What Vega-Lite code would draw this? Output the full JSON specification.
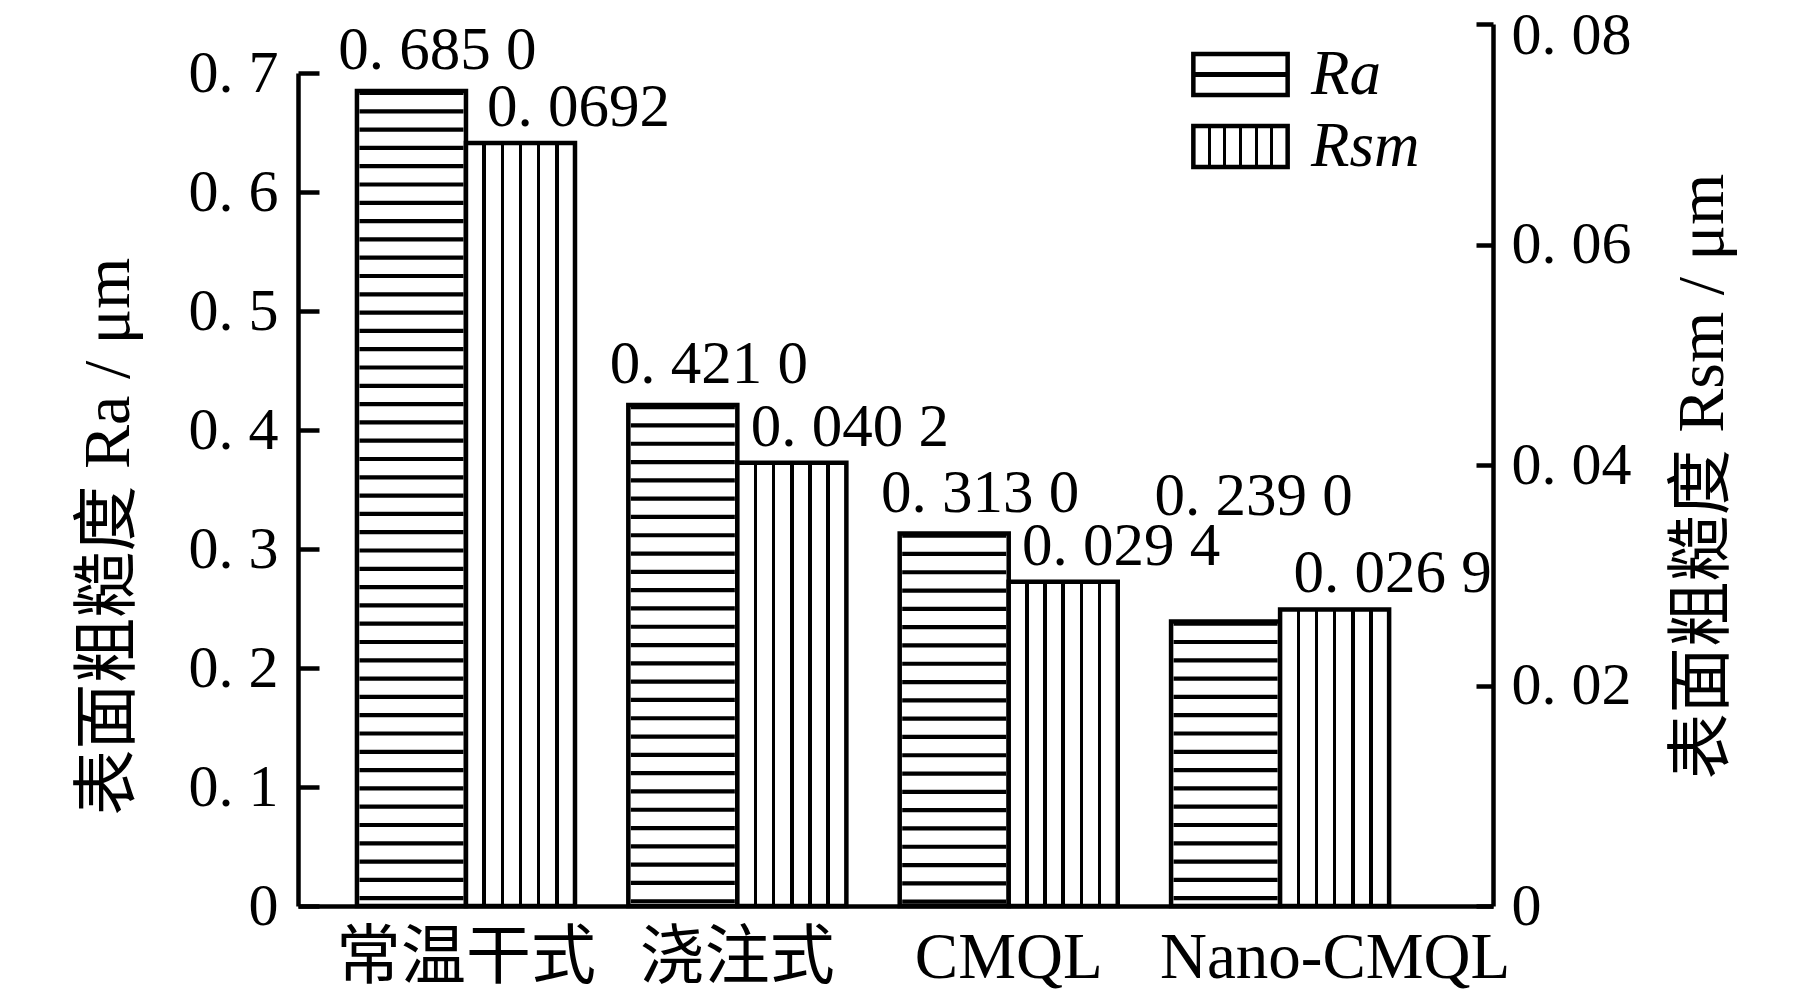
{
  "$schema": "https://vega.github.io/schema/vega-lite/v6.json",
  "autosize": "none",
  "width": 1195,
  "height": 882,
  "padding": {"left": 298, "top": 24, "right": 326, "bottom": 87},
  "background": "white",
  "config": {"view": {"stroke": null}, "font": "Liberation Serif, Noto Sans CJK SC"},
  "data": {"values": [
    {"method": "常温干式", "series": "Ra", "value": 0.685, "label": "0. 685 0"},
    {"method": "常温干式", "series": "Rsm", "value": 0.0692, "label": "0. 0692"},
    {"method": "浇注式", "series": "Ra", "value": 0.421, "label": "0. 421 0"},
    {"method": "浇注式", "series": "Rsm", "value": 0.0402, "label": "0. 040 2"},
    {"method": "CMQL", "series": "Ra", "value": 0.313, "label": "0. 313 0"},
    {"method": "CMQL", "series": "Rsm", "value": 0.0294, "label": "0. 029 4"},
    {"method": "Nano-CMQL", "series": "Ra", "value": 0.239, "label": "0. 239 0"},
    {"method": "Nano-CMQL", "series": "Rsm", "value": 0.0269, "label": "0. 026 9"}
  ]},
  "encoding": {
    "x": {
      "field": "method", "type": "nominal",
      "sort": ["常温干式", "浇注式", "CMQL", "Nano-CMQL"],
      "scale": {"paddingInner": 0.1965, "paddingOuter": 0.3, "align": 0.362},
      "axis": {
        "title": null, "labelAngle": 0, "ticks": false,
        "domainColor": "black", "domainWidth": 4.5,
        "labelFont": "Liberation Serif, Noto Sans CJK SC", "labelFontSize": 65, "labelColor": "black",
        "labelPadding": 20, "labelBaseline": "top", "labelLimit": 1000, "labelOverlap": false,
        "labelOffset": {"condition": {"test": "datum.value === 'Nano-CMQL'", "value": 55}, "value": 0}
      }
    },
    "xOffset": {"field": "series", "type": "nominal", "scale": {"domain": ["Ra", "Rsm"], "paddingInner": 0, "paddingOuter": 0}}
  },
  "layer": [
    {
      "transform": [{"filter": "datum.series === 'Ra'"}],
      "encoding": {
        "y": {
          "field": "value", "type": "quantitative",
          "scale": {"domain": [0, 0.7412], "nice": false, "zero": true},
          "axis": {
            "orient": "left", "values": [0, 0.1, 0.2, 0.3, 0.4, 0.5, 0.6, 0.7], "grid": false,
            "labelExpr": "datum.value === 0 ? '0' : replace(format(datum.value, '.1f'), '.', '. ')",
            "tickSize": -21, "tickWidth": 4.5, "tickColor": "black",
            "domainColor": "black", "domainWidth": 4.5, "domainDash": [833, 3000],
            "labelFont": "Liberation Serif", "labelFontSize": 60, "labelColor": "black", "labelPadding": 41,
            "title": "表面粗糙度 Ra / μm", "titleFont": "Liberation Serif, Noto Sans CJK SC", "titleFontSize": 66,
            "titleFontWeight": "normal", "titleColor": "black", "titleAngle": 270,
            "titleX": -190, "titleY": 512, "titleAlign": "center", "titleBaseline": "middle"
          }
        }
      },
      "layer": [
        {"mark": {"type": "bar", "opacity": 0,
          "fill": {"gradient": "linear", "x1": 0, "y1": 0, "x2": 0, "y2": 1, "stops": [
            {"offset": 0, "color": "white"}, {"offset": 0.45, "color": "white"}, {"offset": 0.45, "color": "black"},
            {"offset": 0.56, "color": "black"}, {"offset": 0.56, "color": "white"}, {"offset": 1, "color": "white"}]}},
         "encoding": {
           "stroke": {
             "field": "series", "type": "nominal",
             "scale": {"domain": ["Ra"], "range": ["black"]},
             "legend": {
               "orient": "none", "legendX": 911, "legendY": 19, "title": null, "padding": 0,
               "symbolType": "M-2.3,-1H2.3V1H-2.3Z", "symbolSize": 1681, "symbolStrokeWidth": 4.5, "symbolStrokeColor": "black",
               "symbolOpacity": 1,
               "labelFont": "Liberation Serif", "labelFontStyle": "italic", "labelFontSize": 63, "labelColor": "black",
               "labelOffset": 39
             }
           }
         }},
        {"mark": {"type": "rule", "strokeWidth": 104, "strokeDash": [4.2, 14.1], "color": "black", "strokeCap": "butt"},
         "encoding": {"y2": {"datum": 0}}},
        {"mark": {"type": "bar", "fillOpacity": 0, "stroke": "black", "strokeWidth": 4.5}},
        {"transform": [{"filter": "datum.method !== 'Nano-CMQL'"}],
         "mark": {"type": "text", "font": "Liberation Serif", "fontSize": 61, "color": "black", "baseline": "alphabetic", "align": "center", "dx": 26, "dy": -22},
         "encoding": {"text": {"field": "label"}}},
        {"transform": [{"filter": "datum.method === 'Nano-CMQL'"}],
         "mark": {"type": "text", "font": "Liberation Serif", "fontSize": 61, "color": "black", "baseline": "alphabetic", "align": "center", "dx": 28, "dy": -107},
         "encoding": {"text": {"field": "label"}}}
      ]
    },
    {
      "transform": [{"filter": "datum.series === 'Rsm'"}],
      "encoding": {
        "y": {
          "field": "value", "type": "quantitative",
          "scale": {"domain": [0, 0.08], "nice": false, "zero": true},
          "axis": {
            "orient": "right", "values": [0, 0.02, 0.04, 0.06, 0.08], "grid": false,
            "labelExpr": "datum.value === 0 ? '0' : replace(format(datum.value, '.2f'), '.', '. ')",
            "tickSize": -17, "tickWidth": 4.5, "tickColor": "black",
            "domainColor": "black", "domainWidth": 4.5,
            "labelFont": "Liberation Serif", "labelFontSize": 60, "labelColor": "black", "labelPadding": 35,
            "labelOffset": {"condition": {"test": "datum.value === 0.08", "value": 11}, "value": 0},
            "title": "表面粗糙度 Rsm / μm", "titleFont": "Liberation Serif, Noto Sans CJK SC", "titleFontSize": 66,
            "titleFontWeight": "normal", "titleColor": "black", "titleAngle": 270,
            "titleX": 209, "titleY": 452, "titleAlign": "center", "titleBaseline": "middle"
          }
        }
      },
      "layer": [
        {"mark": {"type": "bar", "strokeWidth": 4.5,
          "fill": {"gradient": "linear", "x1": 0, "y1": 0, "x2": 1, "y2": 0, "stops": [
            {"offset": 0, "color": "white"}, {"offset": 0.1507, "color": "white"}, {"offset": 0.1507, "color": "black"},
            {"offset": 0.1827, "color": "black"}, {"offset": 0.1827, "color": "white"}, {"offset": 0.3173, "color": "white"},
            {"offset": 0.3173, "color": "black"}, {"offset": 0.3493, "color": "black"}, {"offset": 0.3493, "color": "white"},
            {"offset": 0.484, "color": "white"}, {"offset": 0.484, "color": "black"}, {"offset": 0.516, "color": "black"},
            {"offset": 0.516, "color": "white"}, {"offset": 0.6507, "color": "white"}, {"offset": 0.6507, "color": "black"},
            {"offset": 0.6827, "color": "black"}, {"offset": 0.6827, "color": "white"}, {"offset": 0.8173, "color": "white"},
            {"offset": 0.8173, "color": "black"}, {"offset": 0.8493, "color": "black"}, {"offset": 0.8493, "color": "white"},
            {"offset": 1, "color": "white"}]}},
         "encoding": {
           "stroke": {
             "field": "series", "type": "nominal",
             "scale": {"domain": ["Rsm"], "range": ["black"]},
             "legend": {
               "orient": "none", "legendX": 911, "legendY": 91, "title": null, "padding": 0,
               "symbolType": "M-2.3,-1H2.3V1H-2.3Z", "symbolSize": 1681, "symbolStrokeWidth": 4.5, "symbolStrokeColor": "black",
               "symbolOpacity": 1,
               "labelFont": "Liberation Serif", "labelFontStyle": "italic", "labelFontSize": 63, "labelColor": "black",
               "labelOffset": 39
             }
           }
         }},
        {"mark": {"type": "text", "font": "Liberation Serif", "fontSize": 61, "color": "black", "baseline": "alphabetic", "align": "center", "dx": 58, "dy": -17},
         "encoding": {"text": {"field": "label"}}}
      ]
    }
  ],
  "resolve": {"scale": {"y": "independent", "stroke": "independent"}, "legend": {"stroke": "independent"}}
}
